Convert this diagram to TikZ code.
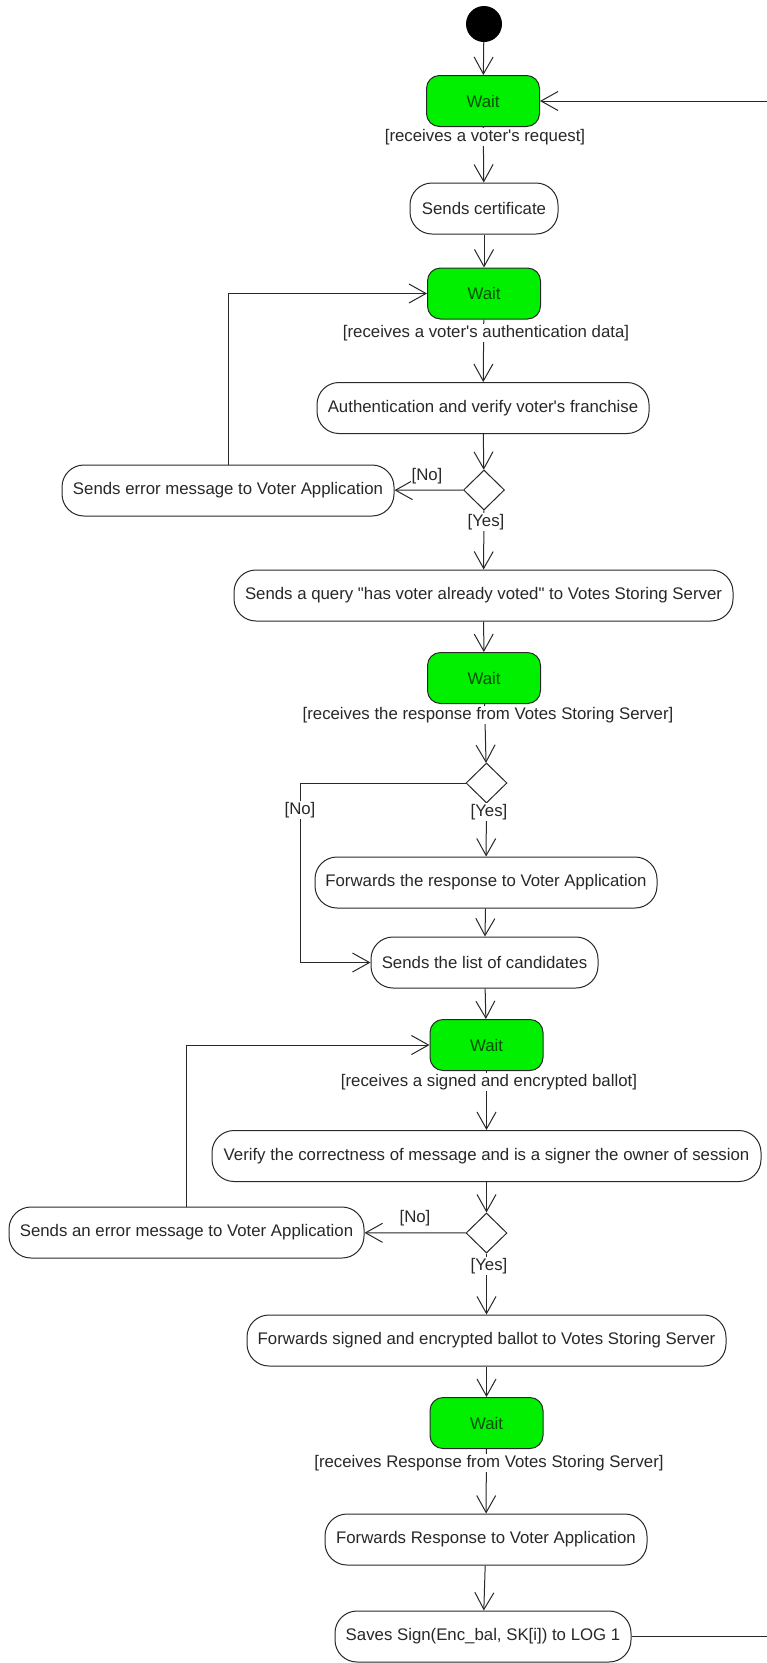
\documentclass[tikz,border=0pt]{standalone}
\usepackage{fontspec}
\setmainfont{Liberation Sans}
\usetikzlibrary{arrows.meta,shapes.geometric}
\definecolor{waitgreen}{RGB}{0,240,0}
\definecolor{waittext}{RGB}{0,80,0}
\definecolor{ink}{RGB}{40,40,40}
\newcommand{\apos}{\textquotesingle}
\newcommand{\dq}{\textquotedbl}
\tikzset{
  every node/.style={font=\fontsize{16.8}{20}\selectfont, text=ink},
  action/.style={draw=ink, line width=1pt, rounded corners=22pt, fill=white,
    minimum height=51pt, inner sep=0pt},
  waitbox/.style={draw=ink, line width=1pt, rounded corners=13pt, fill=waitgreen,
    minimum width=113pt, minimum height=51pt, inner sep=0pt, text=waittext},
  choice/.style={draw=ink, line width=1pt, diamond, fill=white, inner sep=0pt,
    minimum width=41pt, minimum height=40pt},
  guard/.style={fill=white, inner sep=1pt},
  flow/.style={draw=ink, line width=1pt, -{Straight Barb[length=17pt,width=19pt]}}
}
\begin{document}
\begin{tikzpicture}[x=1pt, y=-1pt]
\useasboundingbox[fill=white] (0,0) rectangle (767,1663);

% activity nodes
\node[circle, fill=black, minimum size=36pt, inner sep=0pt] (start) at (484,24) {};
\node[waitbox] (wait1) at (483,101) {Wait};
\node[action, minimum width=148pt] (cert) at (484,208.5) {Sends certificate};
\node[waitbox] (wait2) at (484,293.5) {Wait};
\node[action, minimum width=332pt] (auth) at (483,408) {Authentication and verify voter\apos s franchise};
\node[choice] (d1) at (484,490) {};
\node[action, minimum width=332pt] (err1) at (228,490.5) {Sends error message to Voter Application};
\node[action, minimum width=499pt] (query) at (483.5,595.5) {Sends a query \dq has voter already voted\dq\ to Votes Storing Server};
\node[waitbox] (wait3) at (484,678) {Wait};
\node[choice] (d2) at (486.5,783) {};
\node[action, minimum width=342pt] (fwdresp) at (486,882.5) {Forwards the response to Voter Application};
\node[action, minimum width=227pt] (list) at (484.5,962.5) {Sends the list of candidates};
\node[waitbox] (wait4) at (486.5,1045) {Wait};
\node[action, minimum width=549pt] (verify) at (486.5,1156) {Verify the correctness of message and is a signer the owner of session};
\node[choice] (d3) at (486.5,1233) {};
\node[action, minimum width=355pt] (err2) at (186.5,1232.5) {Sends an error message to Voter Application};
\node[action, minimum width=479pt] (fwdballot) at (486.5,1340.5) {Forwards signed and encrypted ballot to Votes Storing Server};
\node[waitbox] (wait5) at (486.5,1423) {Wait};
\node[action, minimum width=322pt] (fwdR) at (486,1539.5) {Forwards Response to Voter Application};
\node[action, minimum width=296pt] (saves) at (483,1636.5) {Saves Sign(Enc\_bal, SK[i]) to LOG 1};

% bend points of the return paths
\coordinate (nobend) at (300,783);
\coordinate (back) at (771,1636.5);

% main flow
\draw[flow] (start) -- (wait1);
\draw[flow] (wait1) -- (cert);
\draw[flow] (cert) -- (wait2);
\draw[flow] (wait2) -- (auth);
\draw[flow] (auth) -- (d1);
\draw[flow] (d1) -- (err1);
\draw[flow] (err1.north) |- (wait2.west);
\draw[flow] (d1) -- (query);
\draw[flow] (query) -- (wait3);
\draw[flow] (wait3) -- (d2);
\draw[flow] (d2) -- (fwdresp);
\draw[flow] (d2.west) -- (nobend) |- (list.west);
\draw[flow] (fwdresp) -- (list);
\draw[flow] (list) -- (wait4);
\draw[flow] (wait4) -- (verify);
\draw[flow] (verify) -- (d3);
\draw[flow] (d3) -- (err2);
\draw[flow] (err2.north) |- (wait4.west);
\draw[flow] (d3) -- (fwdballot);
\draw[flow] (fwdballot) -- (wait5);
\draw[flow] (wait5) -- (fwdR);
\draw[flow] (fwdR) -- (saves);
\draw[flow] (saves.east) -- (back) |- (wait1.east);

% guards
\node[guard] (g1) at (485,137) {[receives a voter\apos s request]};
\node[guard] (g2) at (486,333) {[receives a voter\apos s authentication data]};
\node[guard] (g3) at (488,715) {[receives the response from Votes Storing Server]};
\node[guard] (g4) at (489,1082) {[receives a signed and encrypted ballot]};
\node[guard] (g5) at (489,1463) {[receives Response from Votes Storing Server]};
\node[guard] (no1) at (427,476) {[No]};
\node[guard] (yes1) at (486,522) {[Yes]};
\node[guard] (no2) at (300,810) {[No]};
\node[guard] (yes2) at (489,812) {[Yes]};
\node[guard] (no3) at (415,1218) {[No]};
\node[guard] (yes3) at (489,1266) {[Yes]};
\end{tikzpicture}
\end{document}
